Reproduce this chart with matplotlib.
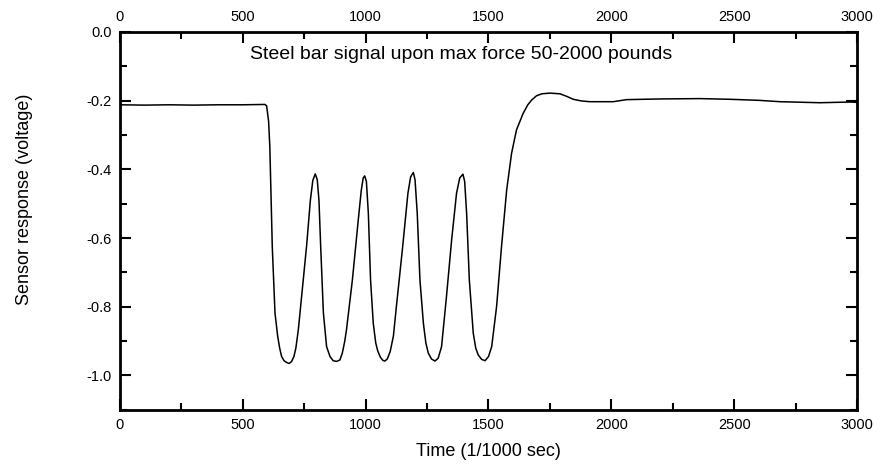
import matplotlib
matplotlib.use("Agg")
import matplotlib.pyplot as plt
from matplotlib.ticker import MultipleLocator, FormatStrFormatter

# points (time in 1/1000 s, response in V)
time_ms = [0, 100, 200, 300, 400, 500, 590, 597, 605, 610, 620, 631, 642, 650, 658, 668, 678, 688, 698,
           708, 716, 726, 746, 760, 775, 785, 795, 803, 810, 817, 828, 841, 855, 868, 882, 895,
           905, 915, 922, 946, 970, 982, 990, 996, 1003, 1011, 1020, 1031, 1041, 1049, 1060, 1070, 1078, 1088,
           1100, 1113, 1125, 1150, 1172, 1183, 1194, 1201, 1210, 1221, 1235, 1245, 1255, 1268, 1282, 1295,
           1309, 1329, 1350, 1370, 1383, 1396, 1403, 1411, 1422, 1438, 1448, 1458, 1472, 1486, 1500,
           1513, 1533, 1553, 1574, 1594, 1614, 1641, 1660, 1676, 1695, 1717,
           1750, 1791, 1820, 1845, 1880, 1913, 2008, 2062, 2200, 2361, 2483, 2600,
           2686, 2849, 2971, 3000]
response_v = [-0.212, -0.213, -0.212, -0.213, -0.212, -0.212, -0.211, -0.215, -0.260, -0.334, -0.625, -0.818, -0.886, -0.920, -0.945, -0.957, -0.962, -0.965, -0.960,
              -0.945, -0.920, -0.867, -0.722, -0.620, -0.490, -0.432, -0.413, -0.430, -0.490, -0.625, -0.818, -0.916, -0.945, -0.957, -0.959, -0.955,
              -0.935, -0.900, -0.867, -0.722, -0.547, -0.462, -0.425, -0.419, -0.435, -0.528, -0.722, -0.848, -0.905, -0.928, -0.947, -0.956, -0.958, -0.952,
              -0.930, -0.885, -0.800, -0.630, -0.470, -0.422, -0.409, -0.430, -0.528, -0.722, -0.848, -0.905, -0.935, -0.952, -0.958, -0.950,
              -0.916, -0.770, -0.605, -0.469, -0.425, -0.414, -0.435, -0.528, -0.722, -0.877, -0.920, -0.940, -0.953, -0.957, -0.945,
              -0.916, -0.799, -0.625, -0.460, -0.353, -0.285, -0.237, -0.212, -0.198, -0.186, -0.180,
              -0.178, -0.180, -0.188, -0.196, -0.201, -0.203, -0.203, -0.197, -0.195, -0.194, -0.196, -0.199,
              -0.203, -0.206, -0.204, -0.205]

title_text = "Steel bar signal upon max force 50-2000 pounds"
x_label = "Time (1/1000 sec)"
y_label = "Sensor response (voltage)"

plt.rcParams['font.family'] = ['Liberation Sans', 'DejaVu Sans']

fig = plt.figure(figsize=(8.82, 4.70), dpi=100)
ax = fig.add_axes([0.136, 0.128, 0.8357, 0.804])

ax.plot(time_ms, response_v, color='black', linewidth=1.1)

ax.set_xlim(0, 3000)
ax.set_ylim(-1.1, 0.0)

ax.xaxis.set_major_locator(MultipleLocator(500))
ax.xaxis.set_minor_locator(MultipleLocator(250))
ax.yaxis.set_major_locator(MultipleLocator(0.2))
ax.yaxis.set_minor_locator(MultipleLocator(0.1))
ax.yaxis.set_major_formatter(FormatStrFormatter('%.1f'))

ax.tick_params(which='both', direction='in', top=True, right=True,
               labeltop=True, labelbottom=True, labelleft=True, labelright=False,
               width=1.5, labelsize=10.5, pad=6)
ax.tick_params(which='major', length=8)
ax.tick_params(which='minor', length=5)

for side in ax.spines.values():
    side.set_linewidth(2)

ax.text(1390, -0.067, title_text, ha='center', va='center', fontsize=14)
ax.set_xlabel(x_label, fontsize=13, labelpad=8)
ax.set_ylabel(y_label, fontsize=13)
# label sits a bit above the axes centre in the original
ax.yaxis.set_label_coords(-0.118, 0.556)

plt.savefig('out.png', dpi=100)
